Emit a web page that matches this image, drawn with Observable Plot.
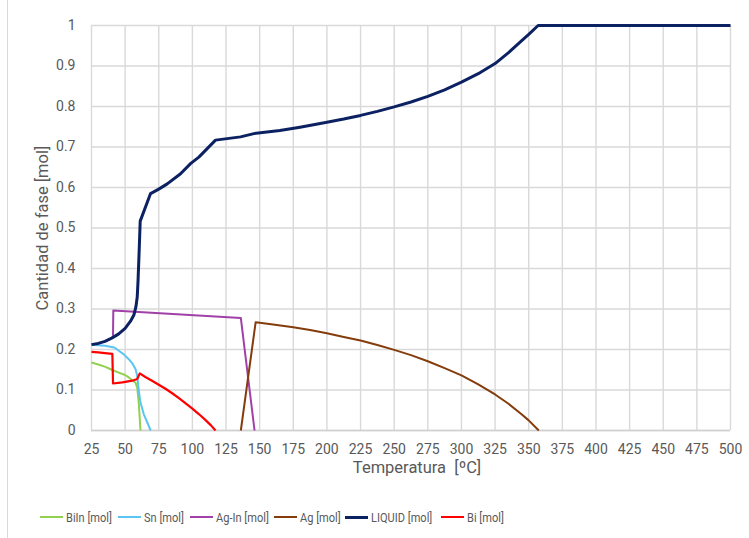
<!DOCTYPE html>
<html>
<head>
<meta charset="utf-8">
<script src="https://cdn.jsdelivr.net/npm/d3@7"></script>
<script src="https://cdn.jsdelivr.net/npm/@observablehq/plot@0.6"></script>
<style>
  html, body { margin: 0; padding: 0; background: #fff; }
  #chart { position: relative; width: 749px; height: 538px; overflow: hidden; }
  #frame { position: absolute; left: 7px; top: 0; width: 1px; height: 538px; background: #d9d9d9; }
  #legend { position: absolute; left: 0; top: 509px; width: 749px; height: 16px;
            font-family: Roboto, "Liberation Sans", sans-serif; font-size: 13px; color: #595959; white-space: nowrap; }
  .item { position: absolute; top: 0; display: flex; align-items: center; height: 16px; }
  .sw { width: 23px; height: 0; border-top-style: solid; margin-right: 3px; }
  .lbl { display: inline-block; transform: scaleX(0.85); transform-origin: left center; }
</style>
</head>
<body>
<div id="chart"><div id="frame"></div><div id="legend"></div></div>
<script>
// Temperature axis and amount axis ticks
const xTicks = [25, 50, 75, 100, 125, 150, 175, 200, 225, 250, 275, 300, 325, 350, 375, 400, 425, 450, 475, 500];
const yTicks = [0, 0.1, 0.2, 0.3, 0.4, 0.5, 0.6, 0.7, 0.8, 0.9, 1];

// Phase amounts [mol] versus temperature [°C]
const biInT = [25, 30, 35.4, 40, 45.3, 50, 52.7, 55.5, 57.7, 59, 60.2, 61.4];
const biInV = [0.168, 0.163, 0.157, 0.150, 0.143, 0.137, 0.131, 0.124, 0.118, 0.106, 0.065, 0];

const snT = [25, 35, 42, 45.3, 49, 52.7, 55.5, 57.7, 59, 59.6, 60.2, 61.4, 63.9, 69];
const snV = [0.212, 0.209, 0.205, 0.197, 0.188, 0.176, 0.165, 0.152, 0.135, 0.115, 0.098, 0.069, 0.040, 0];

const agInT = [41, 41.2, 136, 146.2];
const agInV = [0.234, 0.296, 0.278, 0];

const agT = [136, 147, 150, 160, 175, 187.5, 200, 212.5, 225, 237.5, 250, 262.5, 275, 287.5, 300, 312.5, 325, 335, 344, 350, 357.5];
const agV = [0, 0.267, 0.266, 0.262, 0.255, 0.248, 0.240, 0.231, 0.222, 0.211, 0.199, 0.186, 0.171, 0.154, 0.136, 0.114, 0.089, 0.066, 0.042, 0.025, 0];

const liqT = [25, 30, 35, 40, 45, 50, 54, 56.5, 58, 59, 59.6, 60.5, 61.2, 68.9, 75, 81.3, 91.2, 98.6, 104.8, 111, 117.2, 135.8, 145.7, 165, 180, 190, 200, 212.5, 225, 237.5, 250, 262.5, 275, 287.5, 300, 312.5, 325, 335, 344, 350, 357, 375, 400, 425, 450, 475, 500];
const liqV = [0.212, 0.215, 0.220, 0.228, 0.238, 0.252, 0.270, 0.285, 0.305, 0.330, 0.370, 0.450, 0.517, 0.585, 0.596, 0.609, 0.634, 0.659, 0.675, 0.696, 0.717, 0.725, 0.733, 0.741, 0.749, 0.755, 0.761, 0.769, 0.778, 0.788, 0.799, 0.811, 0.825, 0.841, 0.860, 0.881, 0.906, 0.933, 0.960, 0.978, 1, 1, 1, 1, 1, 1, 1];

const biT = [25, 30, 35, 40.5, 41, 48, 55.3, 59, 60.9, 65, 70, 75, 80, 85, 90, 95, 100, 105, 110, 114, 117.2];
const biV = [0.194, 0.193, 0.191, 0.189, 0.116, 0.119, 0.123, 0.127, 0.141, 0.132, 0.123, 0.113, 0.103, 0.092, 0.080, 0.067, 0.054, 0.040, 0.025, 0.012, 0];

const seriesNames = ["BiIn [mol]", "Sn [mol]", "Ag-In [mol]", "Ag [mol]", "LIQUID [mol]", "Bi [mol]"];
const seriesColors = ["#92d050", "#5bc5f2", "#a040a8", "#843c0c", "#0c2161", "#ff0000"];
const seriesWidths = [2, 2, 2, 2, 3, 2.2];
const legendLeft = [40, 118, 190, 274, 345, 441];

const seriesData = [[biInT, biInV], [snT, snV], [agInT, agInV], [agT, agV], [liqT, liqV], [biT, biV]];
const rows = seriesData.map(([t, v]) => t.map((x, i) => ({T: x, n: v[i]})));

const labelColor = "#595959";

const chart = Plot.plot({
  width: 749,
  height: 490,
  marginLeft: 91,
  marginRight: 19,
  marginTop: 25,
  marginBottom: 60,
  style: {fontFamily: "Roboto, 'Liberation Sans', sans-serif", fontSize: "14px", color: labelColor, background: "transparent"},
  x: {domain: [25, 500]},
  y: {domain: [0, 1]},
  marks: [
    Plot.gridX(xTicks, {stroke: "#d9d9d9", strokeOpacity: 1, strokeWidth: 1.4}),
    Plot.gridY(yTicks, {stroke: "#d9d9d9", strokeOpacity: 1, strokeWidth: 1.4}),
    Plot.ruleY([0], {stroke: "#d0d0d0", strokeWidth: 1.6}),
    ...rows.map((r, i) => Plot.line(r, {x: "T", y: "n", stroke: seriesColors[i], strokeWidth: seriesWidths[i], strokeLinejoin: "round", strokeLinecap: "butt"})),
    Plot.axisX(xTicks, {tickSize: 0, tickPadding: 14, label: null, fill: labelColor, fontSize: 14}),
    Plot.axisY(yTicks, {tickSize: 0, tickPadding: 16, label: null, fill: labelColor, fontSize: 14, tickFormat: d => String(+d.toFixed(1))}),
    Plot.text(["Temperatura  [ºC]"], {frameAnchor: "bottom", dx: 6, dy: 42, fontSize: 16.5, fill: labelColor}),
    Plot.text(["Cantidad de fase [mol]"], {frameAnchor: "left", textAnchor: "middle", dx: -49, rotate: -90, fontSize: 16.5, fill: labelColor})
  ]
});
chart.style.position = "absolute";
chart.style.left = "0px";
chart.style.top = "0px";
document.getElementById("chart").prepend(chart);

// Legend below the plot
const legend = document.getElementById("legend");
seriesNames.forEach((name, i) => {
  const item = document.createElement("div");
  item.className = "item";
  item.style.left = legendLeft[i] + "px";
  const sw = document.createElement("div");
  sw.className = "sw";
  sw.style.borderTopColor = seriesColors[i];
  sw.style.borderTopWidth = (i === 4 ? 3 : 2) + "px";
  const label = document.createElement("span");
  label.className = "lbl";
  label.textContent = name;
  item.append(sw, label);
  legend.append(item);
});
</script>
</body>
</html>
